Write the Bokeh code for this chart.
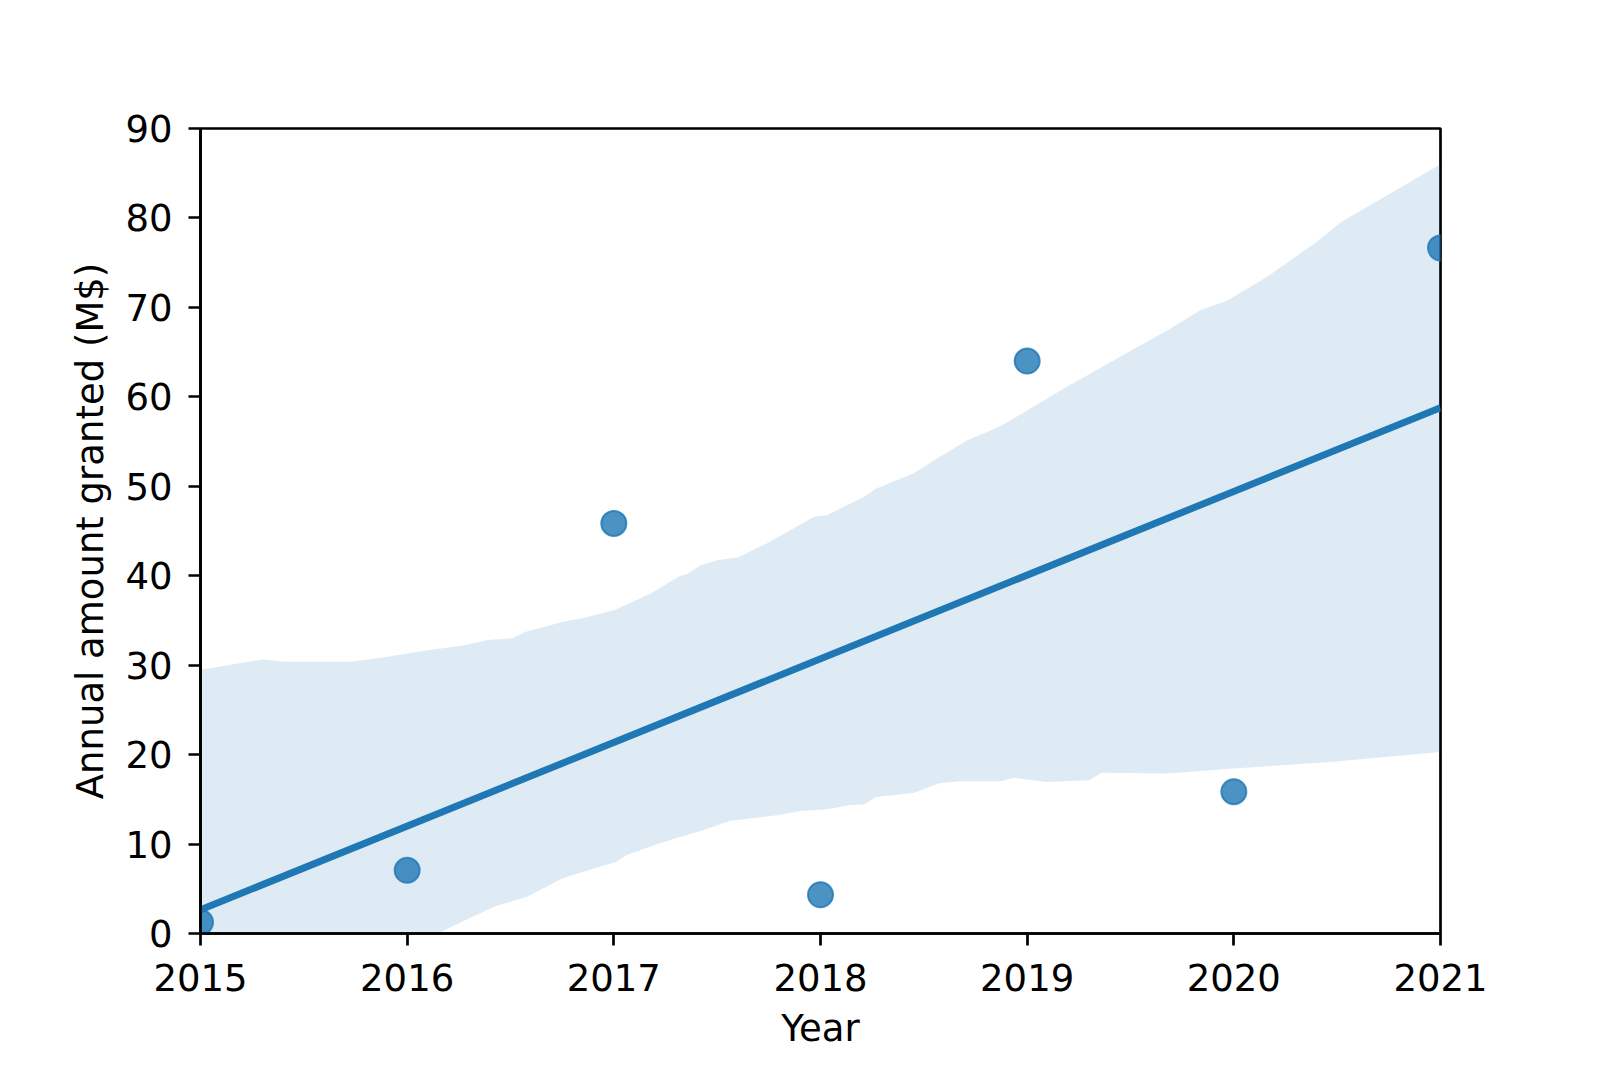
import numpy as np
from bokeh.plotting import figure
from bokeh.models import Range1d, FixedTicker
from bokeh.embed import file_html
from bokeh.resources import INLINE

# ---- data ----
years = [2015, 2016, 2017, 2018, 2019, 2020, 2021]
amounts = [1.25, 7.07, 45.85, 4.33, 64.0, 15.85, 76.65]

# bootstrap confidence band (upper edge)
ci_upper_x = [2015.0, 2015.30, 2015.41, 2015.73, 2015.86, 2016.10, 2016.27, 2016.39,
              2016.51, 2016.57, 2016.75, 2016.86, 2017.0, 2017.18, 2017.31, 2017.36,
              2017.42, 2017.50, 2017.60, 2017.74, 2017.97, 2018.03, 2018.21, 2018.27,
              2018.39, 2018.45, 2018.55, 2018.71, 2018.87, 2019.03, 2019.19, 2019.35,
              2019.52, 2019.68, 2019.84, 2019.97, 2020.16, 2020.39, 2020.52, 2020.73,
              2021.0]
ci_upper_y = [29.5, 30.63, 30.37, 30.37, 30.78, 31.67, 32.2, 32.8,
              33.0, 33.7, 34.84, 35.3, 36.15, 38.0, 39.87, 40.25,
              41.18, 41.74, 42.04, 43.6, 46.58, 46.77, 48.8, 49.75,
              50.87, 51.43, 52.92, 55.15, 56.7, 58.88, 61.1, 63.17,
              65.4, 67.45, 69.7, 70.8, 73.4, 77.15, 79.56, 82.36,
              86.0]
# bootstrap confidence band (lower edge)
ci_lower_x = [2015.0, 2015.5, 2016.0, 2016.15, 2016.23, 2016.42, 2016.58, 2016.75,
              2016.93, 2017.01, 2017.06, 2017.22, 2017.32, 2017.42, 2017.56, 2017.79,
              2017.90, 2018.03, 2018.14, 2018.21, 2018.27, 2018.45, 2018.58, 2018.68,
              2018.87, 2018.94, 2019.09, 2019.30, 2019.36, 2019.68, 2020.0, 2020.48,
              2021.0]
ci_lower_y = [-24.0, -13.0, -3.0, 0.0, 0.93, 2.98, 4.1, 6.15,
              7.45, 8.0, 8.75, 10.06, 10.8, 11.47, 12.59, 13.23,
              13.7, 13.9, 14.35, 14.42, 15.27, 15.72, 16.84, 17.03,
              17.03, 17.4, 16.95, 17.14, 17.96, 17.89, 18.45, 19.19,
              20.3]

x_ticks = [2015, 2016, 2017, 2018, 2019, 2020, 2021]
y_ticks = [0, 10, 20, 30, 40, 50, 60, 70, 80, 90]

BLUE = "#1f77b4"
FONT = "DejaVu Sans"
FS = "37px"

p = figure(frame_width=1240, frame_height=805,
           min_border_left=200, min_border_right=144,
           min_border_top=128, min_border_bottom=112,
           x_range=Range1d(2015, 2021), y_range=Range1d(0, 90),
           output_backend="svg", toolbar_location=None,
           background_fill_color="white", border_fill_color="white")

p.outline_line_color = "black"
p.outline_line_width = 2.7
p.outline_line_alpha = 1.0
p.xgrid.visible = False
p.ygrid.visible = False

# scatter
p.scatter(years, amounts, size=25, marker="circle",
          fill_color=BLUE, fill_alpha=0.8,
          line_color=BLUE, line_alpha=0.8, line_width=2)

# confidence band
band_x = ci_upper_x + ci_lower_x[::-1]
band_y = ci_upper_y + ci_lower_y[::-1]
p.patch(band_x, band_y, fill_color=BLUE, fill_alpha=0.15, line_color=None)

# regression line fitted to the data
slope, intercept = np.polyfit(years, amounts, 1)
lx = [min(years), max(years)]
ly = [slope * x + intercept for x in lx]
p.line(lx, ly, line_color=BLUE, line_width=7)

for ax in (p.xaxis, p.yaxis):
    ax.axis_line_color = "black"
    ax.axis_line_width = 2.7
    ax.major_tick_line_color = "black"
    ax.major_tick_line_width = 2.7
    ax.major_tick_out = 12
    ax.major_tick_in = 0
    ax.minor_tick_line_color = None
    ax.major_label_text_font = FONT
    ax.major_label_text_font_size = FS
    ax.major_label_text_color = "black"
    ax.axis_label_text_font = FONT
    ax.axis_label_text_font_size = FS
    ax.axis_label_text_font_style = "normal"
    ax.axis_label_text_color = "black"

p.xaxis.ticker = FixedTicker(ticks=x_ticks)
p.yaxis.ticker = FixedTicker(ticks=y_ticks)
p.xaxis.axis_label = "Year"
p.yaxis.axis_label = "Annual amount granted (M$)"
p.xaxis.major_label_standoff = 18
p.yaxis.major_label_standoff = 16
p.xaxis.axis_label_standoff = 13
p.yaxis.axis_label_standoff = 10

open("out.html", "w").write(file_html(p, INLINE))
